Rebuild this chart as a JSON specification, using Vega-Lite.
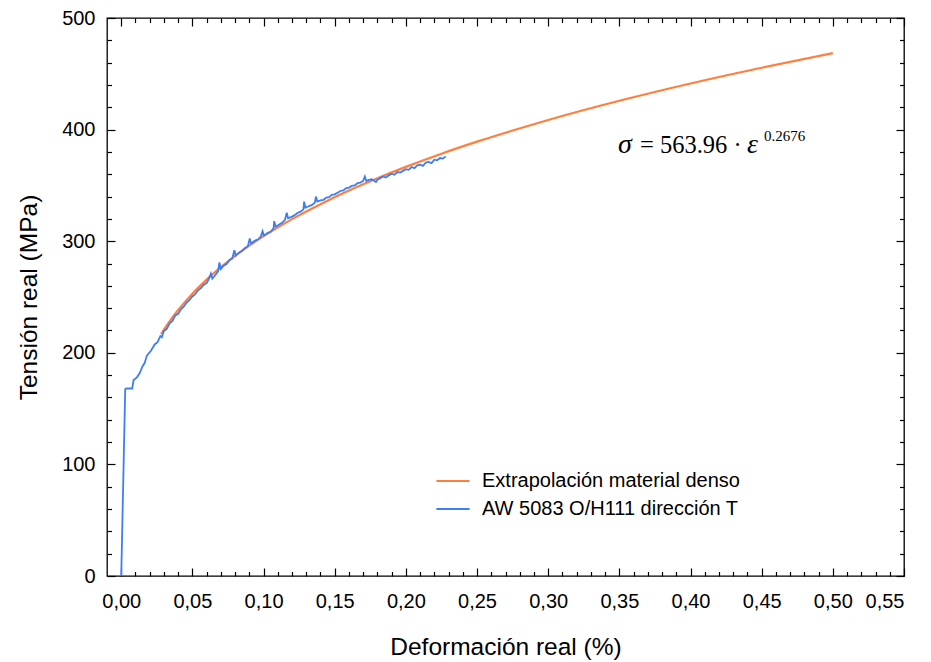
{
  "$schema": "https://vega.github.io/schema/vega-lite/v6.json",
  "width": 797,
  "height": 558,
  "autosize": {"type": "none"},
  "padding": {"left": 107, "top": 18, "right": 27, "bottom": 86},
  "background": "white",
  "config": {
    "font": "Liberation Sans",
    "view": {"stroke": "black", "strokeWidth": 1.3},
    "axis": {"domain": false, "grid": false, "tickColor": "black", "tickWidth": 1.2, "labelColor": "black", "titleColor": "black", "labelFontSize": 20, "titleFontSize": 24.5, "titleFontWeight": "normal"}
  },
  "datasets": {
    "extrap": [
      {"e": 0.028, "s": 216.6, "serie": "Extrapolación material denso"},
      {"e": 0.03, "s": 220.7, "serie": "Extrapolación material denso"},
      {"e": 0.035, "s": 230.0, "serie": "Extrapolación material denso"},
      {"e": 0.04, "s": 238.3, "serie": "Extrapolación material denso"},
      {"e": 0.05, "s": 253.0, "serie": "Extrapolación material denso"},
      {"e": 0.06, "s": 265.6, "serie": "Extrapolación material denso"},
      {"e": 0.07, "s": 276.8, "serie": "Extrapolación material denso"},
      {"e": 0.08, "s": 286.9, "serie": "Extrapolación material denso"},
      {"e": 0.09, "s": 296.1, "serie": "Extrapolación material denso"},
      {"e": 0.10, "s": 304.5, "serie": "Extrapolación material denso"},
      {"e": 0.12, "s": 319.8, "serie": "Extrapolación material denso"},
      {"e": 0.14, "s": 333.2, "serie": "Extrapolación material denso"},
      {"e": 0.16, "s": 345.4, "serie": "Extrapolación material denso"},
      {"e": 0.18, "s": 356.4, "serie": "Extrapolación material denso"},
      {"e": 0.20, "s": 366.6, "serie": "Extrapolación material denso"},
      {"e": 0.225, "s": 378.4, "serie": "Extrapolación material denso"},
      {"e": 0.25, "s": 389.2, "serie": "Extrapolación material denso"},
      {"e": 0.275, "s": 399.2, "serie": "Extrapolación material denso"},
      {"e": 0.30, "s": 408.6, "serie": "Extrapolación material denso"},
      {"e": 0.35, "s": 425.8, "serie": "Extrapolación material denso"},
      {"e": 0.40, "s": 441.3, "serie": "Extrapolación material denso"},
      {"e": 0.45, "s": 455.4, "serie": "Extrapolación material denso"},
      {"e": 0.50, "s": 468.5, "serie": "Extrapolación material denso"}
    ],
    "ensayo": [
      {"e": 0.0, "s": 0, "serie": "AW 5083 O/H111 dirección T"},
      {"e": 0.0028, "s": 167.3, "serie": "AW 5083 O/H111 dirección T"},
      {"e": 0.0035, "s": 168, "serie": "AW 5083 O/H111 dirección T"},
      {"e": 0.0077, "s": 168, "serie": "AW 5083 O/H111 dirección T"},
      {"e": 0.0087, "s": 175.6, "serie": "AW 5083 O/H111 dirección T"},
      {"e": 0.011, "s": 178, "serie": "AW 5083 O/H111 dirección T"},
      {"e": 0.0129, "s": 181.6, "serie": "AW 5083 O/H111 dirección T"},
      {"e": 0.015, "s": 188, "serie": "AW 5083 O/H111 dirección T"},
      {"e": 0.0165, "s": 191, "serie": "AW 5083 O/H111 dirección T"},
      {"e": 0.018, "s": 197.5, "serie": "AW 5083 O/H111 dirección T"},
      {"e": 0.021, "s": 202, "serie": "AW 5083 O/H111 dirección T"},
      {"e": 0.0235, "s": 207.5, "serie": "AW 5083 O/H111 dirección T"},
      {"e": 0.0255, "s": 209.5, "serie": "AW 5083 O/H111 dirección T"},
      {"e": 0.0275, "s": 215, "serie": "AW 5083 O/H111 dirección T"},
      {"e": 0.0285, "s": 214, "serie": "AW 5083 O/H111 dirección T"},
      {"e": 0.03, "s": 219.5, "serie": "AW 5083 O/H111 dirección T"},
      {"e": 0.032, "s": 221.5, "serie": "AW 5083 O/H111 dirección T"},
      {"e": 0.034, "s": 226.5, "serie": "AW 5083 O/H111 dirección T"},
      {"e": 0.036, "s": 228.5, "serie": "AW 5083 O/H111 dirección T"},
      {"e": 0.038, "s": 233.5, "serie": "AW 5083 O/H111 dirección T"},
      {"e": 0.04, "s": 235, "serie": "AW 5083 O/H111 dirección T"},
      {"e": 0.042, "s": 239, "serie": "AW 5083 O/H111 dirección T"},
      {"e": 0.044, "s": 241.5, "serie": "AW 5083 O/H111 dirección T"},
      {"e": 0.046, "s": 245, "serie": "AW 5083 O/H111 dirección T"},
      {"e": 0.048, "s": 247.5, "serie": "AW 5083 O/H111 dirección T"},
      {"e": 0.05, "s": 250.5, "serie": "AW 5083 O/H111 dirección T"},
      {"e": 0.052, "s": 252.5, "serie": "AW 5083 O/H111 dirección T"},
      {"e": 0.054, "s": 256, "serie": "AW 5083 O/H111 dirección T"},
      {"e": 0.056, "s": 258, "serie": "AW 5083 O/H111 dirección T"},
      {"e": 0.058, "s": 261, "serie": "AW 5083 O/H111 dirección T"},
      {"e": 0.06, "s": 262.5, "serie": "AW 5083 O/H111 dirección T"},
      {"e": 0.0615, "s": 266, "serie": "AW 5083 O/H111 dirección T"},
      {"e": 0.063, "s": 271, "serie": "AW 5083 O/H111 dirección T"},
      {"e": 0.064, "s": 266.5, "serie": "AW 5083 O/H111 dirección T"},
      {"e": 0.066, "s": 269.5, "serie": "AW 5083 O/H111 dirección T"},
      {"e": 0.068, "s": 273, "serie": "AW 5083 O/H111 dirección T"},
      {"e": 0.069, "s": 281, "serie": "AW 5083 O/H111 dirección T"},
      {"e": 0.07, "s": 275, "serie": "AW 5083 O/H111 dirección T"},
      {"e": 0.072, "s": 278, "serie": "AW 5083 O/H111 dirección T"},
      {"e": 0.074, "s": 279.5, "serie": "AW 5083 O/H111 dirección T"},
      {"e": 0.076, "s": 283, "serie": "AW 5083 O/H111 dirección T"},
      {"e": 0.078, "s": 284.5, "serie": "AW 5083 O/H111 dirección T"},
      {"e": 0.0795, "s": 292, "serie": "AW 5083 O/H111 dirección T"},
      {"e": 0.0805, "s": 287, "serie": "AW 5083 O/H111 dirección T"},
      {"e": 0.083, "s": 290, "serie": "AW 5083 O/H111 dirección T"},
      {"e": 0.085, "s": 291.5, "serie": "AW 5083 O/H111 dirección T"},
      {"e": 0.087, "s": 294, "serie": "AW 5083 O/H111 dirección T"},
      {"e": 0.089, "s": 295.5, "serie": "AW 5083 O/H111 dirección T"},
      {"e": 0.0903, "s": 302.5, "serie": "AW 5083 O/H111 dirección T"},
      {"e": 0.0912, "s": 298, "serie": "AW 5083 O/H111 dirección T"},
      {"e": 0.094, "s": 300.5, "serie": "AW 5083 O/H111 dirección T"},
      {"e": 0.096, "s": 301.5, "serie": "AW 5083 O/H111 dirección T"},
      {"e": 0.098, "s": 304, "serie": "AW 5083 O/H111 dirección T"},
      {"e": 0.0993, "s": 309, "serie": "AW 5083 O/H111 dirección T"},
      {"e": 0.1003, "s": 305, "serie": "AW 5083 O/H111 dirección T"},
      {"e": 0.103, "s": 307.5, "serie": "AW 5083 O/H111 dirección T"},
      {"e": 0.105, "s": 308.5, "serie": "AW 5083 O/H111 dirección T"},
      {"e": 0.107, "s": 311.5, "serie": "AW 5083 O/H111 dirección T"},
      {"e": 0.1075, "s": 318, "serie": "AW 5083 O/H111 dirección T"},
      {"e": 0.1085, "s": 313, "serie": "AW 5083 O/H111 dirección T"},
      {"e": 0.111, "s": 315, "serie": "AW 5083 O/H111 dirección T"},
      {"e": 0.113, "s": 316.5, "serie": "AW 5083 O/H111 dirección T"},
      {"e": 0.115, "s": 319, "serie": "AW 5083 O/H111 dirección T"},
      {"e": 0.1163, "s": 325.5, "serie": "AW 5083 O/H111 dirección T"},
      {"e": 0.1172, "s": 320.5, "serie": "AW 5083 O/H111 dirección T"},
      {"e": 0.12, "s": 322, "serie": "AW 5083 O/H111 dirección T"},
      {"e": 0.122, "s": 323.5, "serie": "AW 5083 O/H111 dirección T"},
      {"e": 0.124, "s": 325.5, "serie": "AW 5083 O/H111 dirección T"},
      {"e": 0.126, "s": 326.5, "serie": "AW 5083 O/H111 dirección T"},
      {"e": 0.128, "s": 328.5, "serie": "AW 5083 O/H111 dirección T"},
      {"e": 0.1285, "s": 335.5, "serie": "AW 5083 O/H111 dirección T"},
      {"e": 0.1295, "s": 330, "serie": "AW 5083 O/H111 dirección T"},
      {"e": 0.132, "s": 331.5, "serie": "AW 5083 O/H111 dirección T"},
      {"e": 0.134, "s": 332.5, "serie": "AW 5083 O/H111 dirección T"},
      {"e": 0.136, "s": 334.5, "serie": "AW 5083 O/H111 dirección T"},
      {"e": 0.1368, "s": 340, "serie": "AW 5083 O/H111 dirección T"},
      {"e": 0.1378, "s": 335.5, "serie": "AW 5083 O/H111 dirección T"},
      {"e": 0.14, "s": 336.5, "serie": "AW 5083 O/H111 dirección T"},
      {"e": 0.142, "s": 337, "serie": "AW 5083 O/H111 dirección T"},
      {"e": 0.144, "s": 339, "serie": "AW 5083 O/H111 dirección T"},
      {"e": 0.146, "s": 339.5, "serie": "AW 5083 O/H111 dirección T"},
      {"e": 0.148, "s": 341.5, "serie": "AW 5083 O/H111 dirección T"},
      {"e": 0.15, "s": 342, "serie": "AW 5083 O/H111 dirección T"},
      {"e": 0.152, "s": 343.5, "serie": "AW 5083 O/H111 dirección T"},
      {"e": 0.154, "s": 345, "serie": "AW 5083 O/H111 dirección T"},
      {"e": 0.156, "s": 345.5, "serie": "AW 5083 O/H111 dirección T"},
      {"e": 0.158, "s": 347.5, "serie": "AW 5083 O/H111 dirección T"},
      {"e": 0.16, "s": 348, "serie": "AW 5083 O/H111 dirección T"},
      {"e": 0.162, "s": 349.5, "serie": "AW 5083 O/H111 dirección T"},
      {"e": 0.164, "s": 350, "serie": "AW 5083 O/H111 dirección T"},
      {"e": 0.166, "s": 352, "serie": "AW 5083 O/H111 dirección T"},
      {"e": 0.168, "s": 352.5, "serie": "AW 5083 O/H111 dirección T"},
      {"e": 0.17, "s": 354, "serie": "AW 5083 O/H111 dirección T"},
      {"e": 0.1712, "s": 358, "serie": "AW 5083 O/H111 dirección T"},
      {"e": 0.1722, "s": 354, "serie": "AW 5083 O/H111 dirección T"},
      {"e": 0.174, "s": 355, "serie": "AW 5083 O/H111 dirección T"},
      {"e": 0.176, "s": 355.5, "serie": "AW 5083 O/H111 dirección T"},
      {"e": 0.179, "s": 353, "serie": "AW 5083 O/H111 dirección T"},
      {"e": 0.18, "s": 355, "serie": "AW 5083 O/H111 dirección T"},
      {"e": 0.182, "s": 356.5, "serie": "AW 5083 O/H111 dirección T"},
      {"e": 0.184, "s": 358, "serie": "AW 5083 O/H111 dirección T"},
      {"e": 0.186, "s": 357, "serie": "AW 5083 O/H111 dirección T"},
      {"e": 0.188, "s": 359, "serie": "AW 5083 O/H111 dirección T"},
      {"e": 0.19, "s": 360.5, "serie": "AW 5083 O/H111 dirección T"},
      {"e": 0.192, "s": 359.5, "serie": "AW 5083 O/H111 dirección T"},
      {"e": 0.194, "s": 362, "serie": "AW 5083 O/H111 dirección T"},
      {"e": 0.196, "s": 361.5, "serie": "AW 5083 O/H111 dirección T"},
      {"e": 0.198, "s": 363, "serie": "AW 5083 O/H111 dirección T"},
      {"e": 0.2, "s": 364.5, "serie": "AW 5083 O/H111 dirección T"},
      {"e": 0.202, "s": 364, "serie": "AW 5083 O/H111 dirección T"},
      {"e": 0.204, "s": 366.5, "serie": "AW 5083 O/H111 dirección T"},
      {"e": 0.206, "s": 365.5, "serie": "AW 5083 O/H111 dirección T"},
      {"e": 0.208, "s": 368, "serie": "AW 5083 O/H111 dirección T"},
      {"e": 0.21, "s": 368.5, "serie": "AW 5083 O/H111 dirección T"},
      {"e": 0.212, "s": 367.5, "serie": "AW 5083 O/H111 dirección T"},
      {"e": 0.214, "s": 370.5, "serie": "AW 5083 O/H111 dirección T"},
      {"e": 0.216, "s": 371, "serie": "AW 5083 O/H111 dirección T"},
      {"e": 0.218, "s": 370, "serie": "AW 5083 O/H111 dirección T"},
      {"e": 0.22, "s": 373, "serie": "AW 5083 O/H111 dirección T"},
      {"e": 0.222, "s": 372.5, "serie": "AW 5083 O/H111 dirección T"},
      {"e": 0.224, "s": 374.5, "serie": "AW 5083 O/H111 dirección T"},
      {"e": 0.226, "s": 374, "serie": "AW 5083 O/H111 dirección T"},
      {"e": 0.228, "s": 376, "serie": "AW 5083 O/H111 dirección T"}
    ]
  },
  "layer": [
    {
      "data": {"name": "extrap"},
      "mark": {"type": "line", "strokeWidth": 2.2, "interpolate": "monotone"},
      "encoding": {
        "x": {"field": "e", "type": "quantitative", "scale": {"domain": [-0.01, 0.55], "nice": false, "zero": false},
          "axis": {"orient": "bottom", "values": [0, 0.05, 0.1, 0.15, 0.2, 0.25, 0.3, 0.35, 0.4, 0.45, 0.5, 0.55], "ticks": false, "labelPadding": 15, "labelExpr": "replace(format(datum.value, '.2f'), '.', ',')", "title": "Deformación real (%)", "titlePadding": 24}},
        "y": {"field": "s", "type": "quantitative", "scale": {"domain": [0, 500], "nice": false},
          "axis": {"orient": "left", "values": [0, 100, 200, 300, 400, 500], "ticks": false, "labelPadding": 12, "title": "Tensión real (MPa)", "titlePadding": 20}},
        "color": {"field": "serie", "type": "nominal",
          "scale": {"domain": ["Extrapolación material denso", "AW 5083 O/H111 dirección T"], "range": ["#ff7f3f", "#3d7ef7"]},
          "legend": {"orient": "none", "legendX": 328, "legendY": 449, "title": null, "symbolType": "stroke", "symbolSize": 1100, "symbolStrokeWidth": 2, "labelFontSize": 20, "labelColor": "black", "labelOffset": 11, "labelLimit": 0, "rowPadding": 0, "clipHeight": 28}}
      }
    },
    {
      "data": {"name": "ensayo"},
      "mark": {"type": "line", "strokeWidth": 1.8},
      "encoding": {
        "x": {"field": "e", "type": "quantitative", "scale": {"domain": [-0.01, 0.55], "nice": false, "zero": false},
          "axis": {"orient": "bottom", "values": [0, 0.05, 0.1, 0.15, 0.2, 0.25, 0.3, 0.35, 0.4, 0.45, 0.5, 0.55], "tickSize": -8, "labels": false, "title": null}},
        "y": {"field": "s", "type": "quantitative", "scale": {"domain": [0, 500], "nice": false},
          "axis": {"orient": "left", "values": [0, 100, 200, 300, 400, 500], "tickSize": -8, "labels": false, "title": null}},
        "color": {"field": "serie", "type": "nominal",
          "scale": {"domain": ["Extrapolación material denso", "AW 5083 O/H111 dirección T"], "range": ["#ff7f3f", "#3d7ef7"]}}
      }
    },
    {
      "data": {"values": [{}]},
      "mark": {"type": "text", "text": "σ", "font": "Liberation Serif", "fontStyle": "italic", "fontSize": 28, "align": "left", "baseline": "alphabetic", "color": "black"},
      "encoding": {
        "x": {"datum": 0.349, "type": "quantitative", "scale": {"domain": [-0.01, 0.55], "nice": false, "zero": false},
          "axis": {"orient": "bottom", "values": [0.01, 0.02, 0.03, 0.04, 0.06, 0.07, 0.08, 0.09, 0.11, 0.12, 0.13, 0.14, 0.16, 0.17, 0.18, 0.19, 0.21, 0.22, 0.23, 0.24, 0.26, 0.27, 0.28, 0.29, 0.31, 0.32, 0.33, 0.34, 0.36, 0.37, 0.38, 0.39, 0.41, 0.42, 0.43, 0.44, 0.46, 0.47, 0.48, 0.49, 0.51, 0.52, 0.53, 0.54], "tickSize": -4.5, "labels": false, "title": null}},
        "y": {"datum": 379, "type": "quantitative", "scale": {"domain": [0, 500], "nice": false},
          "axis": {"orient": "left", "values": [20, 40, 60, 80, 120, 140, 160, 180, 220, 240, 260, 280, 320, 340, 360, 380, 420, 440, 460, 480], "tickSize": -4.5, "labels": false, "title": null}}
      }
    },
    {
      "data": {"values": [{}]},
      "mark": {"type": "text", "text": "= 563.96 ·", "font": "Liberation Serif", "fontSize": 24.5, "align": "left", "baseline": "alphabetic", "dx": 22, "color": "black"},
      "encoding": {
        "x": {"datum": 0.349, "type": "quantitative", "scale": {"domain": [-0.01, 0.55], "nice": false, "zero": false},
          "axis": {"orient": "top", "values": [0, 0.05, 0.1, 0.15, 0.2, 0.25, 0.3, 0.35, 0.4, 0.45, 0.5, 0.55], "tickSize": -8, "labels": false, "title": null}},
        "y": {"datum": 379, "type": "quantitative", "scale": {"domain": [0, 500], "nice": false},
          "axis": {"orient": "right", "values": [0, 100, 200, 300, 400, 500], "tickSize": -8, "labels": false, "title": null}}
      }
    },
    {
      "data": {"values": [{}]},
      "mark": {"type": "text", "text": "ε", "font": "Liberation Serif", "fontStyle": "italic", "fontSize": 28, "align": "left", "baseline": "alphabetic", "dx": 129, "color": "black"},
      "encoding": {
        "x": {"datum": 0.349, "type": "quantitative", "scale": {"domain": [-0.01, 0.55], "nice": false, "zero": false},
          "axis": {"orient": "top", "values": [0.01, 0.02, 0.03, 0.04, 0.06, 0.07, 0.08, 0.09, 0.11, 0.12, 0.13, 0.14, 0.16, 0.17, 0.18, 0.19, 0.21, 0.22, 0.23, 0.24, 0.26, 0.27, 0.28, 0.29, 0.31, 0.32, 0.33, 0.34, 0.36, 0.37, 0.38, 0.39, 0.41, 0.42, 0.43, 0.44, 0.46, 0.47, 0.48, 0.49, 0.51, 0.52, 0.53, 0.54], "tickSize": -4.5, "labels": false, "title": null}},
        "y": {"datum": 379, "type": "quantitative", "scale": {"domain": [0, 500], "nice": false},
          "axis": {"orient": "right", "values": [20, 40, 60, 80, 120, 140, 160, 180, 220, 240, 260, 280, 320, 340, 360, 380, 420, 440, 460, 480], "tickSize": -4.5, "labels": false, "title": null}}
      }
    },
    {
      "data": {"values": [{}]},
      "mark": {"type": "text", "text": "0.2676", "font": "Liberation Serif", "fontSize": 15, "align": "left", "baseline": "alphabetic", "dx": 146, "dy": -12, "color": "black"},
      "encoding": {
        "x": {"datum": 0.349, "type": "quantitative", "scale": {"domain": [-0.01, 0.55], "nice": false, "zero": false}, "axis": null},
        "y": {"datum": 379, "type": "quantitative", "scale": {"domain": [0, 500], "nice": false}, "axis": null}
      }
    }
  ],
  "resolve": {"axis": {"x": "independent", "y": "independent"}}
}
